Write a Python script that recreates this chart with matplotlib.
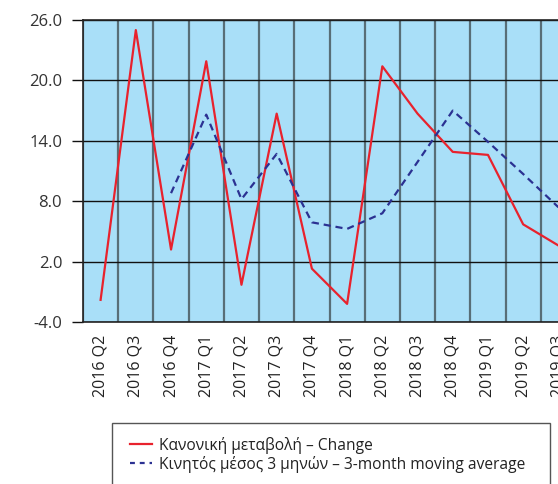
import matplotlib
matplotlib.use("Agg")
import matplotlib.pyplot as plt
from matplotlib.lines import Line2D
from matplotlib.patches import Rectangle
import numpy as np

plt.rcParams['font.family'] = ['Open Sans', 'DejaVu Sans']

quarters = ['2016 Q2', '2016 Q3', '2016 Q4', '2017 Q1', '2017 Q2', '2017 Q3', '2017 Q4',
            '2018 Q1', '2018 Q2', '2018 Q3', '2018 Q4', '2019 Q1', '2019 Q2', '2019 Q3']
change = [-1.8, 25.0, 3.2, 21.9, -0.3, 16.7, 1.3, -2.2, 21.4, 16.7, 12.9, 12.6, 5.7, 3.6]
# 3-month moving average starts from the third quarter
moving_avg = [np.nan, np.nan, 8.8, 16.6, 8.2, 12.7, 5.9, 5.25, 6.8, 11.9, 17.0, 13.9, 10.7, 7.4]
yticks = [-4.0, 2.0, 8.0, 14.0, 20.0, 26.0]

label_change = 'Κανονική μεταβολή – Change'
label_avg = 'Κινητός μέσος 3 μηνών – 3-month moving average'

W, H = 558, 484
fig = plt.figure(figsize=(W / 100, H / 100), dpi=100)
# plot area runs off the right edge of the figure
ax = fig.add_axes([83 / W, 1 - 322 / H, 493 / W, 302 / H])
ax.set_facecolor('#A9DFF8')

x = np.arange(len(quarters))
ax.plot(x, change, color='#E8222D', linewidth=1.6)
ax.plot(x, moving_avg, color='#2B3192', linewidth=1.6, linestyle=(0, (3.2, 2.2)))

ax.set_xlim(-0.5, len(quarters) - 0.5)
ax.set_ylim(-4, 26)
ax.set_yticks(yticks)
ax.set_yticklabels([f'{v:.1f}' for v in yticks])
ax.set_xticks(x)
ax.set_xticklabels(quarters, rotation=90)
ax.set_xticks(np.arange(-0.5, len(quarters), 1.0), minor=True)

ax.grid(axis='y', which='major', color='#111111', linewidth=1.0)
ax.grid(axis='x', which='minor', color='#4a5a60', linewidth=1.6, alpha=0.85)
ax.set_axisbelow(True)

ax.tick_params(axis='y', length=8, width=1.0, pad=7, labelsize=12, colors='#111111',
               labelcolor='#333333')
ax.tick_params(axis='x', which='major', length=0, pad=9.5, labelsize=11.5, labelcolor='#222222')
ax.tick_params(axis='x', which='minor', length=0)

for s in ['left', 'bottom', 'top']:
    ax.spines[s].set_color('#222222')
    ax.spines[s].set_linewidth(1.2)
ax.spines['right'].set_visible(False)

# legend box, its lower edge falls below the figure
fig.patches.append(Rectangle((112 / W, 1 - 505 / H), 438 / W, 82 / H, transform=fig.transFigure,
                             facecolor='white', edgecolor='#555555', linewidth=1.0))
handles = [Line2D([], [], color='#E8222D', linewidth=1.6),
           Line2D([], [], color='#2B3192', linewidth=1.6, linestyle=(0, (2.2, 2.2)))]
fig.legend(handles, [label_change, label_avg], loc='upper left',
           bbox_to_anchor=(122 / W, 1 - 429 / H), frameon=False, fontsize=11.2,
           handlelength=1.4, handletextpad=0.5, labelspacing=0.12, borderpad=0,
           labelcolor='#222222')

fig.savefig('out.png', dpi=100)
